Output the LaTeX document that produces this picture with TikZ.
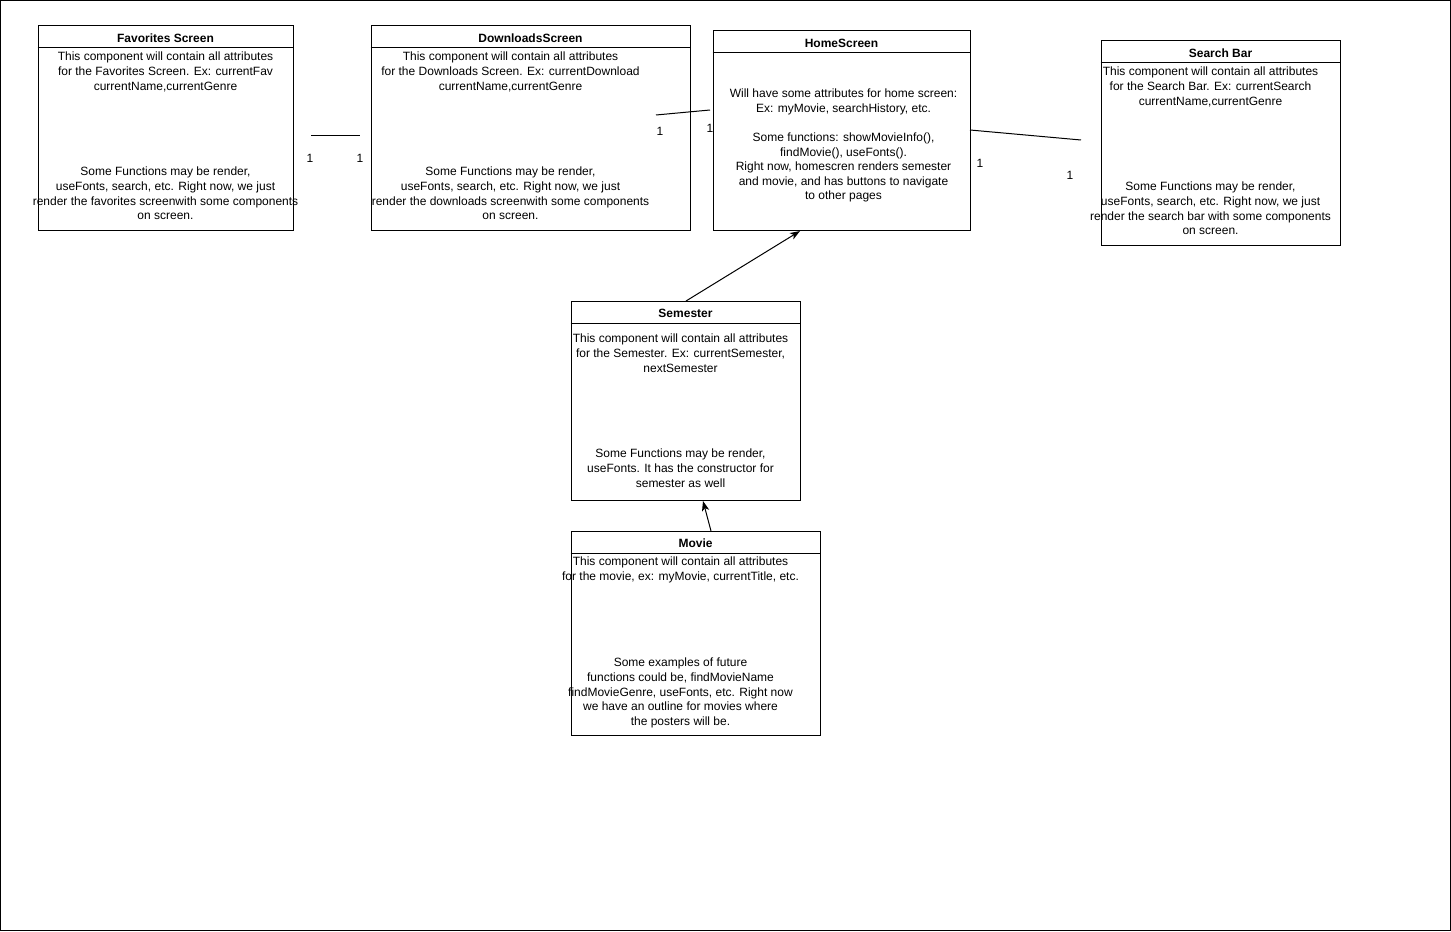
\documentclass[tikz,border=0pt]{standalone}
\usepackage{fontspec}
\setmainfont{Liberation Sans}
\usetikzlibrary{arrows.meta,fit}
\begin{document}
\begin{tikzpicture}[x=0.75pt,y=-0.75pt,
  every node/.style={font=\fontsize{9}{10.9}\selectfont, inner sep=0pt, align=center},
  classbox/.style={draw, line width=0.75pt, fill=white, inner sep=0pt},
  headline/.style={line width=0.75pt},
  classtitle/.style={font=\fontsize{9}{10.9}\selectfont\bfseries},
  bodytext/.style={anchor=north},
  mult/.style={anchor=center},
  conn/.style={line width=0.75pt},
  arr/.style={line width=0.75pt, -{Stealth[length=7.5pt,width=5.5pt,inset=2pt]}}
]
% page frame
\useasboundingbox (0,0) rectangle (1451,931);
\draw[line width=0.75pt] (0.5,0.5) rectangle (1450.5,930.5);

% multiplicity labels lying under the class boxes
\node[mult] (m1) at (310,158) {1};
\node[mult] (m2) at (360,158) {1};
\node[mult] (m4) at (710,128) {1};
\node[mult] (m5) at (980,163) {1};
\node[mult] (m6) at (1070,175) {1};

% class boxes
\coordinate (fav-a) at (38,26);   \coordinate (fav-b) at (293,230);
\coordinate (dl-a) at (371,26);   \coordinate (dl-b) at (690,230);
\coordinate (home-a) at (713,31); \coordinate (home-b) at (970,230);
\coordinate (sb-a) at (1101,41);  \coordinate (sb-b) at (1340,245);
\coordinate (sem-a) at (571,301); \coordinate (sem-b) at (800,500);
\coordinate (mov-a) at (571,531); \coordinate (mov-b) at (820,735);

\node[classbox, fit=(fav-a)(fav-b)] (fav) {};
\node[classbox, fit=(dl-a)(dl-b)] (dl) {};
\node[classbox, fit=(home-a)(home-b)] (home) {};
\node[classbox, fit=(sb-a)(sb-b)] (sb) {};
\node[classbox, fit=(sem-a)(sem-b)] (sem) {};
\node[classbox, fit=(mov-a)(mov-b)] (mov) {};

% multiplicity label drawn on top of the downloads box
\node[mult] (m3) at (660,131) {1};

% header separators
\draw[headline] (fav.west |- 0,48) -- (fav.east |- 0,48);
\draw[headline] (dl.west |- 0,48) -- (dl.east |- 0,48);
\draw[headline] (home.west |- 0,53) -- (home.east |- 0,53);
\draw[headline] (sb.west |- 0,63) -- (sb.east |- 0,63);
\draw[headline] (sem.west |- 0,323) -- (sem.east |- 0,323);
\draw[headline] (mov.west |- 0,553) -- (mov.east |- 0,553);

% titles
\node[classtitle] (fav-t) at (165.5,38.5) {Favorites Screen};
\node[classtitle] (dl-t) at (530.5,38.5) {DownloadsScreen};
\node[classtitle] (home-t) at (841.5,43.5) {HomeScreen};
\node[classtitle] (sb-t) at (1220.5,53.5) {Search Bar};
\node[classtitle] (sem-t) at (685.5,313.5) {Semester};
\node[classtitle] (mov-t) at (695.5,543.5) {Movie};

% body texts
\node[bodytext] (fav-1) at (165.5,52) {This component will contain all attributes\\for the Favorites Screen. Ex: currentFav\\currentName,currentGenre};
\node[bodytext] (fav-2) at (165.5,167) {Some Functions may be render,\\useFonts, search, etc. Right now, we just\\render the favorites screenwith some components\\on screen.};

\node[bodytext] (dl-1) at (510.5,52) {This component will contain all attributes\\for the Downloads Screen. Ex: currentDownload\\currentName,currentGenre};
\node[bodytext] (dl-2) at (510.5,167) {Some Functions may be render,\\useFonts, search, etc. Right now, we just\\render the downloads screenwith some components\\on screen.};

\node[bodytext] (home-1) at (843.5,89) {Will have some attributes for home screen:\\Ex: myMovie, searchHistory, etc.\\[10.9pt]Some functions: showMovieInfo(),\\findMovie(), useFonts().\\Right now, homescren renders semester\\and movie, and has buttons to navigate\\to other pages};

\node[bodytext] (sb-1) at (1210.5,67) {This component will contain all attributes\\for the Search Bar. Ex: currentSearch\\currentName,currentGenre};
\node[bodytext] (sb-2) at (1210.5,182) {Some Functions may be render,\\useFonts, search, etc. Right now, we just\\render the search bar with some components\\on screen.};

\node[bodytext] (sem-1) at (680.5,334) {This component will contain all attributes\\for the Semester. Ex: currentSemester,\\nextSemester};
\node[bodytext] (sem-2) at (680.5,449) {Some Functions may be render,\\useFonts. It has the constructor for\\semester as well};

\node[bodytext] (mov-1) at (680.5,557) {This component will contain all attributes\\for the movie, ex: myMovie, currentTitle, etc.};
\node[bodytext] (mov-2) at (680.5,658) {Some examples of future\\functions could be, findMovieName\\findMovieGenre, useFonts, etc. Right now\\we have an outline for movies where\\the posters will be.};

% association lines
\coordinate (l1a) at (311,135); \coordinate (l1b) at (360,135);
\draw[conn] (l1a) -- (l1b);
\coordinate (l2a) at (656,115); \coordinate (l2b) at (710,110);
\draw[conn] (l2a) -- (l2b);
\coordinate (l3a) at (970,130); \coordinate (l3b) at (1081,140);
\draw[conn] (l3a) -- (l3b);

% dependency arrows
\coordinate (semtop) at (686,301);
\coordinate (homebot) at (800,231);
\draw[arr] (semtop) -- (homebot);
\coordinate (movtop) at (711,531);
\coordinate (sembot) at (703,501);
\draw[arr] (movtop) -- (sembot);
\end{tikzpicture}
\end{document}
